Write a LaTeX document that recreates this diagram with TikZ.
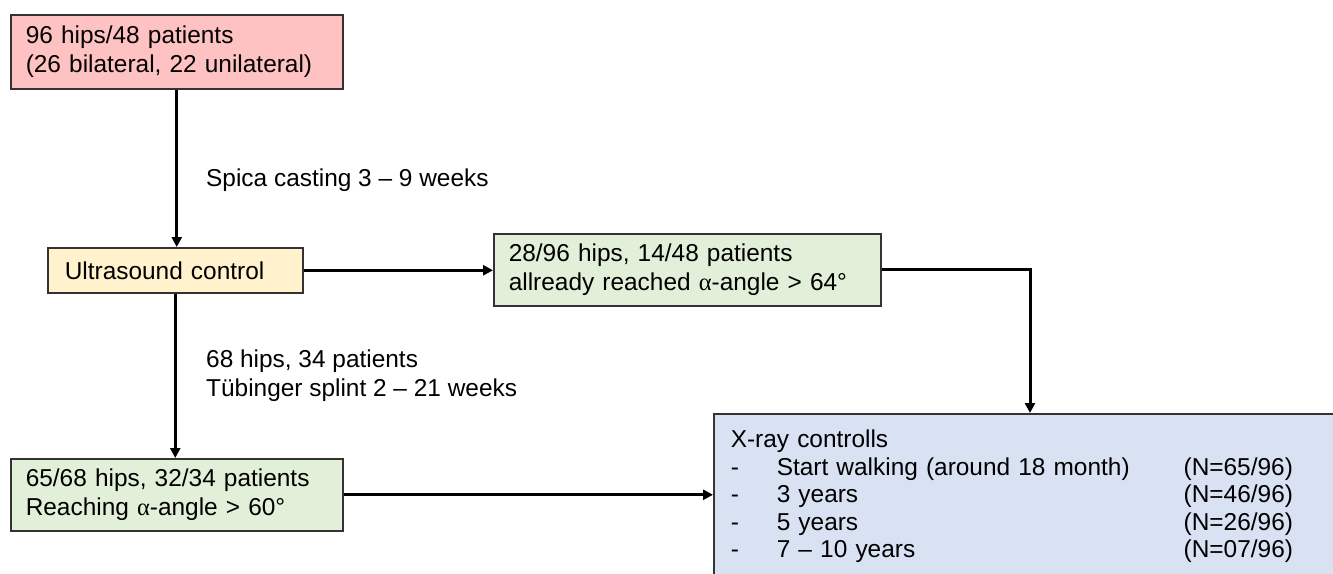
\documentclass[tikz,border=0pt]{standalone}
\usepackage{fontspec}
\setmainfont{Liberation Sans}
\newfontfamily\greekfont{Liberation Serif}
\usetikzlibrary{arrows.meta,positioning,calc}
\definecolor{pinkbox}{HTML}{FFC2C2}
\definecolor{creambox}{HTML}{FFF2CC}
\definecolor{sagebox}{HTML}{E2EFD9}
\definecolor{bluebox}{HTML}{D9E2F3}
\definecolor{edgegrey}{HTML}{333333}

\begin{document}
\begin{tikzpicture}[x=0.02cm,y=-0.02cm,font=\fontsize{13.9}{16.5}\selectfont,
            box/.style={draw=edgegrey,line width=0.9pt,anchor=north west,align=left,inner xsep=0.3cm,inner ysep=0pt},
            flow/.style={line width=0.06cm,-{Triangle[length=0.2cm,width=0.2cm]}}]
          \useasboundingbox (0,0) rectangle (1333,574);
          \clip (0,0) rectangle (1333,574);
          % boxes
          \node[box,fill=pinkbox,text width=6.04cm,minimum height=1.48cm] (hips) at (10,14) {96 hips/48 patients\\(26 bilateral, 22 unilateral)};
          \node[box,fill=creambox,text width=4.42cm,inner xsep=0.34cm,minimum height=0.9cm] (usound) at (47,247) {Ultrasound control};
          \node[box,fill=sagebox,text width=7.14cm,minimum height=1.44cm] (reached) at (493,233) {28/96 hips, 14/48 patients\\allready reached {\greekfont α}-angle > 64°};
          \node[box,fill=sagebox,text width=6.04cm,minimum height=1.44cm] (reaching) at (10,458) {65/68 hips, 32/34 patients\\Reaching {\greekfont α}-angle > 60°};
          \node[box,fill=bluebox,text width=12cm,inner xsep=0.34cm,inner ysep=0.3cm,font=\fontsize{13.9}{15.6}\selectfont] (xray) at (713,413) {%
            \begin{tabular}{@{}p{0.92cm}@{}p{8.14cm}@{}l@{}}
              \multicolumn{3}{@{}l}{X-ray controlls}\\
              - & Start walking (around 18 month) & (N=65/96)\\
              - & 3 years & (N=46/96)\\
              - & 5 years & (N=26/96)\\
              - & 7 -- 10 years & (N=07/96)\\[0.6cm]
            \end{tabular}};
          \coordinate (xin) at (1030,413);
          % labels
          \node[anchor=west] (spica) at (200,180) {Spica casting 3 -- 9 weeks};
          \node[anchor=west,align=left] (splint) at (200,376) {68 hips, 34 patients\\Tübinger splint 2 -- 21 weeks};
          % connectors
          \draw[flow] (hips.south) -- (hips.south |- usound.north);
          \draw[flow] (usound.east) -- (usound.east -| reached.west);
          \draw[flow] (reached.east) -| (xin);
          \draw[flow] (usound.south) -- (usound.south |- reaching.north);
          \draw[flow] (reaching.east) -- (reaching.east -| xray.west);
        \end{tikzpicture}
\end{document}
